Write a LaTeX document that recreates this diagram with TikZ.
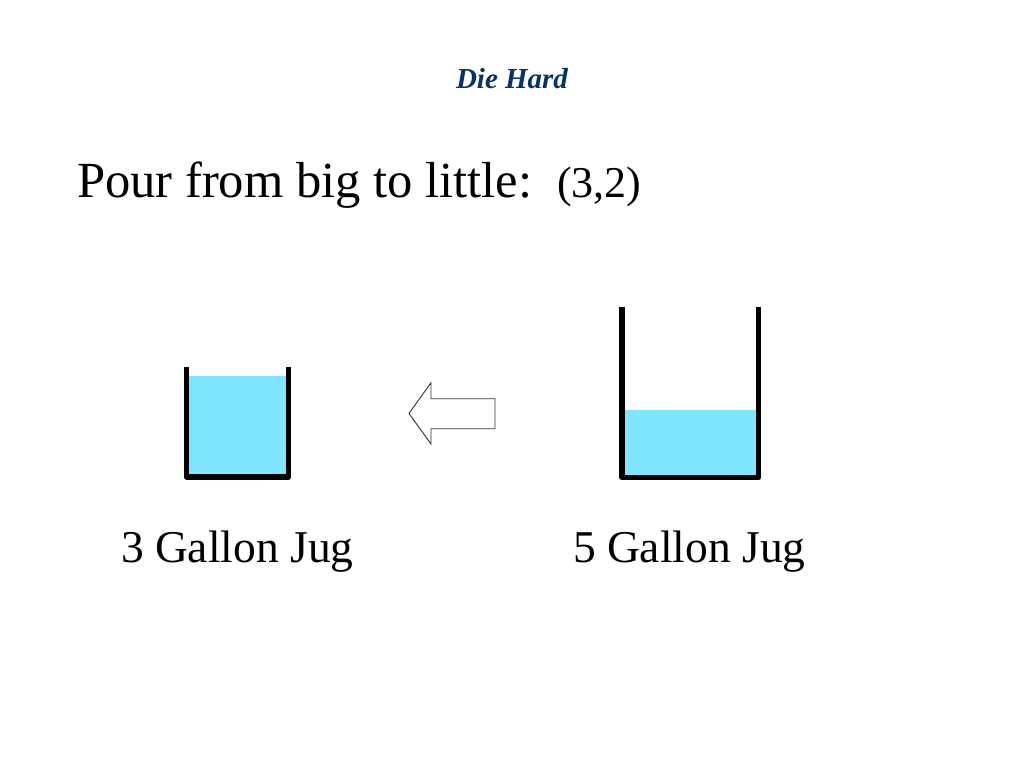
\documentclass[tikz,border=0pt]{standalone}
\usepackage{fontspec}
\setmainfont{Liberation Serif}
\definecolor{water}{RGB}{128,229,255}
\definecolor{titleblue}{RGB}{10,50,100}
\tikzset{
  jugwall/.style={line width=5.3pt, line join=round, line cap=butt, black},
  waterfill/.style={fill=water, draw=none},
  txt/.style={inner sep=0pt, outer sep=0pt},
  bigtxt/.style={txt, font=\fontsize{50.6}{60}\selectfont},
  midtxt/.style={txt, font=\fontsize{44}{52}\selectfont},
  labeltxt/.style={txt, font=\fontsize{45.5}{54}\selectfont},
  titletxt/.style={txt, font=\fontsize{29}{34}\selectfont\bfseries\itshape, text=titleblue},
  pourarrow/.style={draw=black!80, line width=0.9pt, fill=white, line join=miter}
}
\begin{document}
\begin{tikzpicture}[x=1pt,y=-1pt]
\useasboundingbox (0,0) rectangle (1024,768);
\fill[white] (0,0) rectangle (1024,768);

% title
\node[titletxt, anchor=base] (title) at (512,88) {Die Hard};

% heading
\node[bigtxt, anchor=base west] (pour) at (77,197.5) {Pour from big to little:};
\node[midtxt, anchor=base west] (state) at (557,197.5) {(3,2)};

% small jug water and walls
\fill[waterfill] (189,375.5) rectangle (286,475);
\draw[jugwall] (186.5,367) -- (186.5,477) -- (288.3,477) -- (288.3,367);

% big jug water and walls
\fill[waterfill] (624.5,409.5) rectangle (756.3,475.5);
\draw[jugwall] (622,307) -- (622,477.5) -- (758.7,477.5) -- (758.7,307);

% arrow
\draw[pourarrow] (409,413.5) -- (431,382.7) -- (431,398.7) -- (495,398.7)
  -- (495,428.7) -- (431,428.7) -- (431,444) -- cycle;

% labels
\node[labeltxt, anchor=base west] (small) at (121,562) {3 Gallon Jug};
\node[labeltxt, anchor=base west] (big) at (573,562) {5 Gallon Jug};
\end{tikzpicture}
\end{document}
